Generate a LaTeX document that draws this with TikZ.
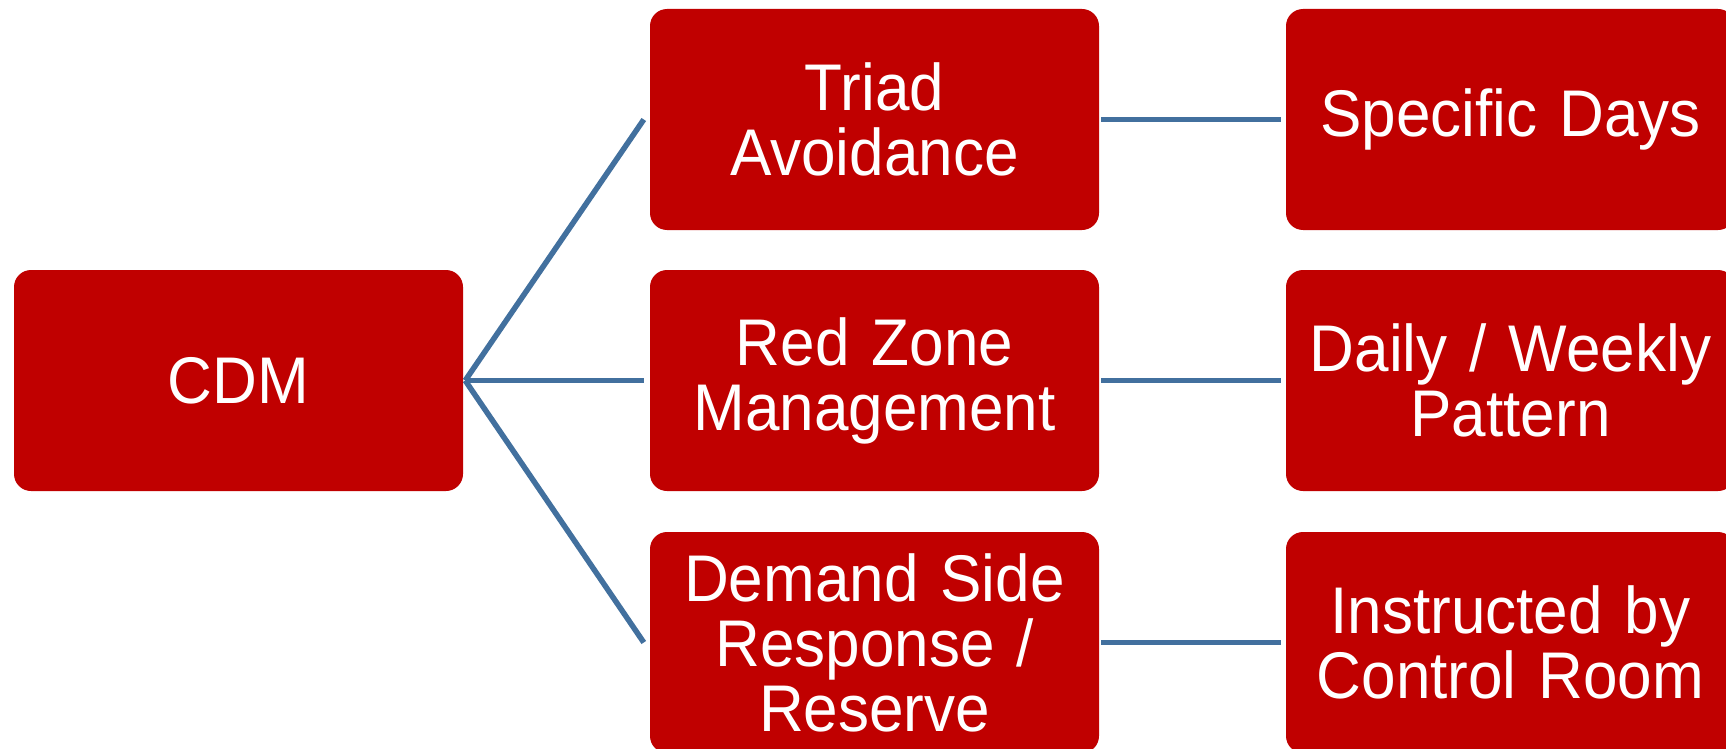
\documentclass[tikz,border=0pt]{standalone}
\usepackage{fontspec}
\setmainfont[FakeStretch=0.94]{Liberation Sans}
\usetikzlibrary{calc}
\definecolor{boxred}{RGB}{192,0,0}
\definecolor{linkblue}{RGB}{66,112,158}
\tikzset{
  stage/.style={fill=boxred, draw=none, rounded corners=17pt,
    minimum width=449pt, minimum height=221pt, inner sep=0pt,
    text=white, align=center, text width=440pt,
    font=\fontsize{66}{65}\selectfont},
  link/.style={draw=linkblue, line width=5.5pt}
}
\begin{document}
\begin{tikzpicture}[x=1pt,y=-1pt]
\useasboundingbox (0,0) rectangle (1726,749);
% root
\node[stage] (cdm) at (238.5,380.5) {CDM};
% methods
\node[stage] (tri) at (874.5,119.5) {Triad\\Avoidance};
\node[stage] (rzm) at (874.5,380.5) {Red Zone\\Management};
\node[stage] (dsr) at (874.5,642.5) {Demand Side\\Response /\\Reserve};
% triggers
\node[stage] (days) at (1510.5,119.5) {Specific Days};
\node[stage] (patt) at (1510.5,380.5) {Daily / Weekly\\Pattern};
\node[stage] (ctrl) at (1510.5,642.5) {Instructed by\\Control Room};
% branches from the root
\coordinate (hub) at ($(cdm.east)+(2,0)$);
\draw[link] (hub) -- ($(tri.west)+(-6,0)$);
\draw[link] (hub) -- ($(rzm.west)+(-6,0)$);
\draw[link] (hub) -- ($(dsr.west)+(-6,0)$);
% method to trigger
\draw[link] ($(tri.east)+(2,0)$) -- ($(days.west)+(-5,0)$);
\draw[link] ($(rzm.east)+(2,0)$) -- ($(patt.west)+(-5,0)$);
\draw[link] ($(dsr.east)+(2,0)$) -- ($(ctrl.west)+(-5,0)$);
\end{tikzpicture}
\end{document}
